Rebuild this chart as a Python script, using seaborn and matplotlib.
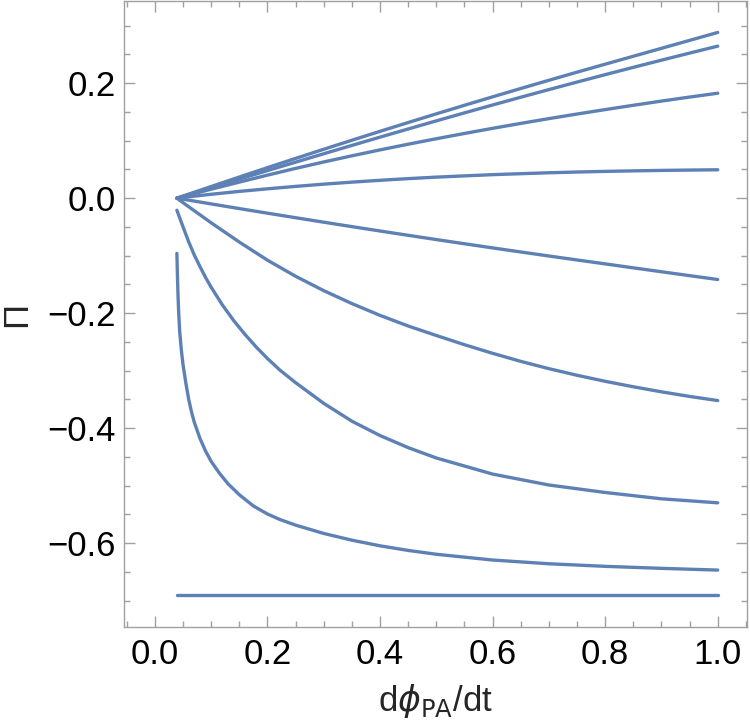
import numpy as np
import pandas as pd
import seaborn as sns
import matplotlib.pyplot as plt
from matplotlib.ticker import MultipleLocator, FuncFormatter

# curves
x_fan = [0.039, 0.05, 0.1, 0.15, 0.2, 0.25, 0.3, 0.35, 0.4, 0.45, 0.5,
         0.55, 0.6, 0.65, 0.7, 0.75, 0.8, 0.85, 0.9, 0.95, 1.0]
pi_1 = [0, 0.0037, 0.0203, 0.0368, 0.0531, 0.0692, 0.0851, 0.1008, 0.1163, 0.1316, 0.1467,
        0.1616, 0.1763, 0.1908, 0.2051, 0.2192, 0.2331, 0.2469, 0.2607, 0.2745, 0.2883]
pi_2 = [0, 0.0033, 0.0183, 0.0332, 0.0480, 0.0627, 0.0773, 0.0918, 0.1062, 0.1204, 0.1345,
        0.1484, 0.1621, 0.1756, 0.1889, 0.2020, 0.2149, 0.2276, 0.2401, 0.2524, 0.2645]
pi_3 = [0, 0.0029, 0.0156, 0.0280, 0.0401, 0.0518, 0.0630, 0.0737, 0.0840, 0.0939, 0.1034,
        0.1126, 0.1215, 0.1301, 0.1384, 0.1464, 0.1541, 0.1616, 0.1689, 0.1759, 0.1826]
pi_4 = [0, 0.0013, 0.0068, 0.0118, 0.0163, 0.0205, 0.0244, 0.0279, 0.0311, 0.0340, 0.0366,
        0.0388, 0.0409, 0.0426, 0.0442, 0.0455, 0.0466, 0.0475, 0.0483, 0.0489, 0.0494]
pi_5 = [0, -0.0018, -0.0100, -0.0181, -0.0261, -0.0340, -0.0418, -0.0495, -0.0571, -0.0646,
        -0.0720, -0.0793, -0.0865, -0.0936, -0.1006, -0.1075, -0.1143, -0.1212, -0.1280,
        -0.1348, -0.1415]
pi_6 = [0, -0.0079, -0.0429, -0.0764, -0.1079, -0.1359, -0.1609, -0.1834, -0.2039, -0.2224,
        -0.2389, -0.2549, -0.2699, -0.2839, -0.2966, -0.3081, -0.3186, -0.3281, -0.3369,
        -0.3449, -0.3521]

x_7 = [0.039, 0.05, 0.06, 0.07, 0.08, 0.09, 0.1, 0.12, 0.14, 0.16, 0.18, 0.2, 0.222,
       0.25, 0.3, 0.35, 0.4, 0.45, 0.5, 0.6, 0.7, 0.8, 0.9, 1.0]
pi_7 = [-0.021, -0.050, -0.076, -0.099, -0.119, -0.138, -0.155, -0.186, -0.213, -0.237,
        -0.259, -0.279, -0.299, -0.321, -0.357, -0.388, -0.413, -0.434, -0.452, -0.480,
        -0.499, -0.512, -0.523, -0.530]

x_8 = [0.039, 0.040, 0.041, 0.042, 0.044, 0.047, 0.05, 0.055, 0.06, 0.065, 0.07, 0.08,
       0.09, 0.1, 0.115, 0.13, 0.15, 0.175, 0.2, 0.222, 0.25, 0.3, 0.35, 0.4, 0.45, 0.5,
       0.6, 0.7, 0.8, 0.9, 1.0]
pi_8 = [-0.096, -0.135, -0.168, -0.195, -0.232, -0.265, -0.290, -0.322, -0.350, -0.372,
        -0.390, -0.418, -0.440, -0.458, -0.479, -0.497, -0.516, -0.5355, -0.5495, -0.559,
        -0.5688, -0.5833, -0.5950, -0.6048, -0.6128, -0.6195, -0.6295, -0.6360, -0.6405,
        -0.6440, -0.6470]

x_9 = [0.039, 1.0]
pi_9 = [-0.690, -0.690]

curves = [(x_fan, pi_1), (x_fan, pi_2), (x_fan, pi_3), (x_fan, pi_4), (x_fan, pi_5),
          (x_fan, pi_6), (x_7, pi_7), (x_8, pi_8), (x_9, pi_9)]

sns.set_theme(style='ticks')
plt.rcParams['font.family'] = ['Liberation Sans', 'DejaVu Sans']
plt.rcParams['mathtext.fontset'] = 'dejavusans'
plt.rcParams['lines.solid_joinstyle'] = 'round'

fig = plt.figure(figsize=(7.5, 7.23), dpi=100)
ax = fig.add_axes([0.1653, 0.1328, 0.8307, 0.8658])

line_color = '#5E81B5'
for xs, ys in curves:
    sns.lineplot(x=xs, y=ys, ax=ax, color=line_color, linewidth=2.4)

ax.set_xlim(-0.055, 1.052)
ax.set_ylim(-0.746, 0.343)

fmt = FuncFormatter(lambda v, p: f'{v:.1f}'.replace('-', '\u2212'))
ax.xaxis.set_major_locator(MultipleLocator(0.2))
ax.xaxis.set_minor_locator(MultipleLocator(0.05))
ax.yaxis.set_major_locator(MultipleLocator(0.2))
ax.yaxis.set_minor_locator(MultipleLocator(0.05))
ax.xaxis.set_major_formatter(fmt)
ax.yaxis.set_major_formatter(fmt)

frame = '#a0a0a0'
for s in ax.spines.values():
    s.set_color(frame)
    s.set_linewidth(1.0)
ax.tick_params(which='both', direction='in', top=True, right=True, color=frame,
               width=1.0, labelsize=25, labelcolor='black')
ax.tick_params(axis='x', pad=8)
ax.tick_params(axis='y', pad=6)
ax.tick_params(which='major', length=8)
ax.tick_params(which='minor', length=4)

ax.set_xlabel(r'd$\phi_{\mathrm{PA}}$/dt', fontsize=25, labelpad=8)
ax.set_ylabel('Π', fontsize=25, labelpad=10)

fig.savefig('out.png', dpi=100)
